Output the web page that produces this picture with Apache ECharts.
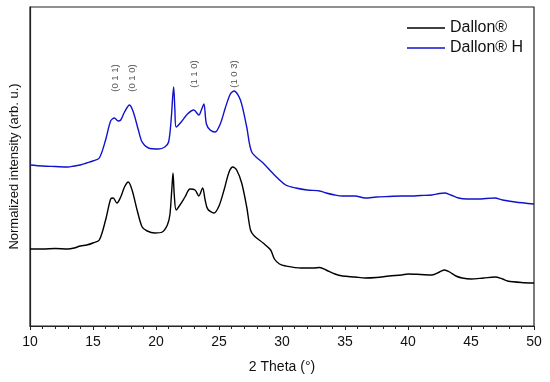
<!DOCTYPE html>
<html>
<head>
<meta charset="utf-8">
<script src="https://cdn.jsdelivr.net/npm/echarts@6/dist/echarts.min.js"></script>
<style>
html,body{margin:0;padding:0;background:#fff;}
#chart{width:550px;height:382px;}
</style>
</head>
<body>
<div id="chart"></div>
<script>
// 2 Theta (degrees) and normalized intensity (arbitrary units)
var thetaBlack = [10.0,11.0,12.0,13.0,13.5,14.0,14.5,15.0,15.5,16.0,16.4,16.6,16.9,17.2,17.5,17.8,18.1,18.5,18.9,19.3,19.9,20.5,20.9,21.1,21.25,21.35,21.45,21.6,21.9,22.3,22.7,23.1,23.4,23.7,23.9,24.1,24.6,25.0,25.4,25.8,26.1,26.4,26.8,27.2,27.5,27.8,28.5,29.1,29.4,29.8,30.3,31.5,32.5,33.0,33.5,34.2,34.8,35.8,36.6,37.5,38.5,39.5,40.0,41.0,41.9,42.5,42.9,43.3,43.8,44.3,45.0,46.0,46.9,47.5,47.9,49.0,50.0];
var intensityBlack = [77,77,77.5,77,78,80,81,83,86,106,127,128,123,129,139,144,136,116,99,95,93,94,101,111,136,153,131,116,121,129,137,136,130,138,126,117,113,120,136,154,159,156,143,119,96,90,83,76,67,62,60,58,58,58.5,56,52,50,49,48,48.5,50,51,52,51.5,51,54,56,54,50,48,47,48,49,47,45,43.5,43];

var thetaBlue = [10.0,11.0,12.0,13.0,13.5,14.0,14.5,15.0,15.5,16.0,16.4,16.7,17.0,17.2,17.5,17.9,18.2,18.6,18.9,19.4,20.2,20.7,21.0,21.2,21.4,21.5,21.6,22.0,22.5,23.0,23.4,23.6,23.8,24.0,24.3,24.7,25.1,25.5,25.9,26.2,26.7,27.2,27.6,28.5,29.4,30.3,31.1,32.0,33.0,33.5,34.2,34.8,35.8,36.6,37.5,38.5,39.5,40.0,41.0,41.9,42.5,42.9,43.4,44.0,44.7,45.5,46.9,47.5,48.5,50.0];
var intensityBlue = [161,160,159.5,159,160,161,163,165,168,186,205,208,205,206,214,221,214,196,184,178,177,179,184,206,239,216,199,204,212,216,211,216,222,202,196,194,202,218,232,235,226,199,174,163,151,141,138,136,135,133,131,130,130,128,129,129.5,130,130,130.5,131,132.5,133,131,128,127,127,128,126,124,122];

var seriesNames = ['Dallon®', 'Dallon® H'];
var seriesColors = ['#000000', '#1212cc'];

var peakLabels = ['(0 1 1)', '(0 1 0)', '(1 1 0)', '(1 0 3)'];
var peakTheta = [16.77, 18.1, 23.07, 26.2];
var peakLevel = [248, 248, 252, 252];

var xTickMin = 10, xTickMax = 50, xTickStep = 5;

function pairs(xs, ys){ return xs.map(function(x,i){ return [x, ys[i]]; }); }

var chart = echarts.init(document.getElementById('chart'), null, {renderer:'canvas'});
var font = 'Liberation Sans, Arial, sans-serif';
chart.setOption({
  animation: false,
  backgroundColor: '#fff',
  grid: {left: 27, right: 16, top: 7, bottom: 56, show: true, borderColor: '#222', borderWidth: 1.2},
  legend: {
    orient: 'vertical', left: 402, top: 14,
    itemWidth: 38, itemHeight: 1.5, itemGap: 2, icon: 'rect',
    textStyle: {fontFamily: font, fontSize: 16, color: '#111', lineHeight: 18},
    data: seriesNames
  },
  xAxis: {
    type: 'value', min: xTickMin, max: xTickMax, interval: xTickStep,
    name: '2 Theta (°)', nameLocation: 'middle', nameGap: 34,
    nameTextStyle: {fontFamily: font, fontSize: 14, color: '#111'},
    axisLine: {show: true, lineStyle: {color: '#222', width: 1.2}},
    axisTick: {show: true, inside: false, length: 4, lineStyle: {color: '#222'}},
    minorTick: {show: true, splitNumber: 5, length: 3, lineStyle: {color: '#222'}},
    axisLabel: {fontFamily: font, fontSize: 14, color: '#111', margin: 9},
    splitLine: {show: false}
  },
  yAxis: {
    type: 'value', min: 0, max: 319,
    name: 'Normalized intensity (arb. u.)', nameLocation: 'middle', nameGap: 9,
    nameTextStyle: {fontFamily: font, fontSize: 13, color: '#111'},
    axisLine: {show: true, lineStyle: {color: '#222', width: 1.2}},
    axisTick: {show: false},
    axisLabel: {show: false},
    splitLine: {show: false}
  },
  series: [
    {
      name: seriesNames[0], type: 'line', data: pairs(thetaBlack, intensityBlack),
      showSymbol: false, symbol: 'none', smooth: 0.3,
      lineStyle: {color: seriesColors[0], width: 1.4}, itemStyle: {color: seriesColors[0]}
    },
    {
      name: seriesNames[1], type: 'line', data: pairs(thetaBlue, intensityBlue),
      showSymbol: false, symbol: 'none', smooth: 0.3,
      lineStyle: {color: seriesColors[1], width: 1.4}, itemStyle: {color: seriesColors[1]}
    },
    {
      name: 'peaks', type: 'scatter', symbolSize: 1, silent: true,
      itemStyle: {color: 'rgba(0,0,0,0)'},
      data: peakLabels.map(function(l,i){ return {name: l, value: [peakTheta[i], peakLevel[i]]}; }),
      label: {show: true, position: 'inside', rotate: 90, formatter: '{b}',
              fontFamily: font, fontSize: 9.5, color: '#222'}
    }
  ]
});
</script>
</body>
</html>
